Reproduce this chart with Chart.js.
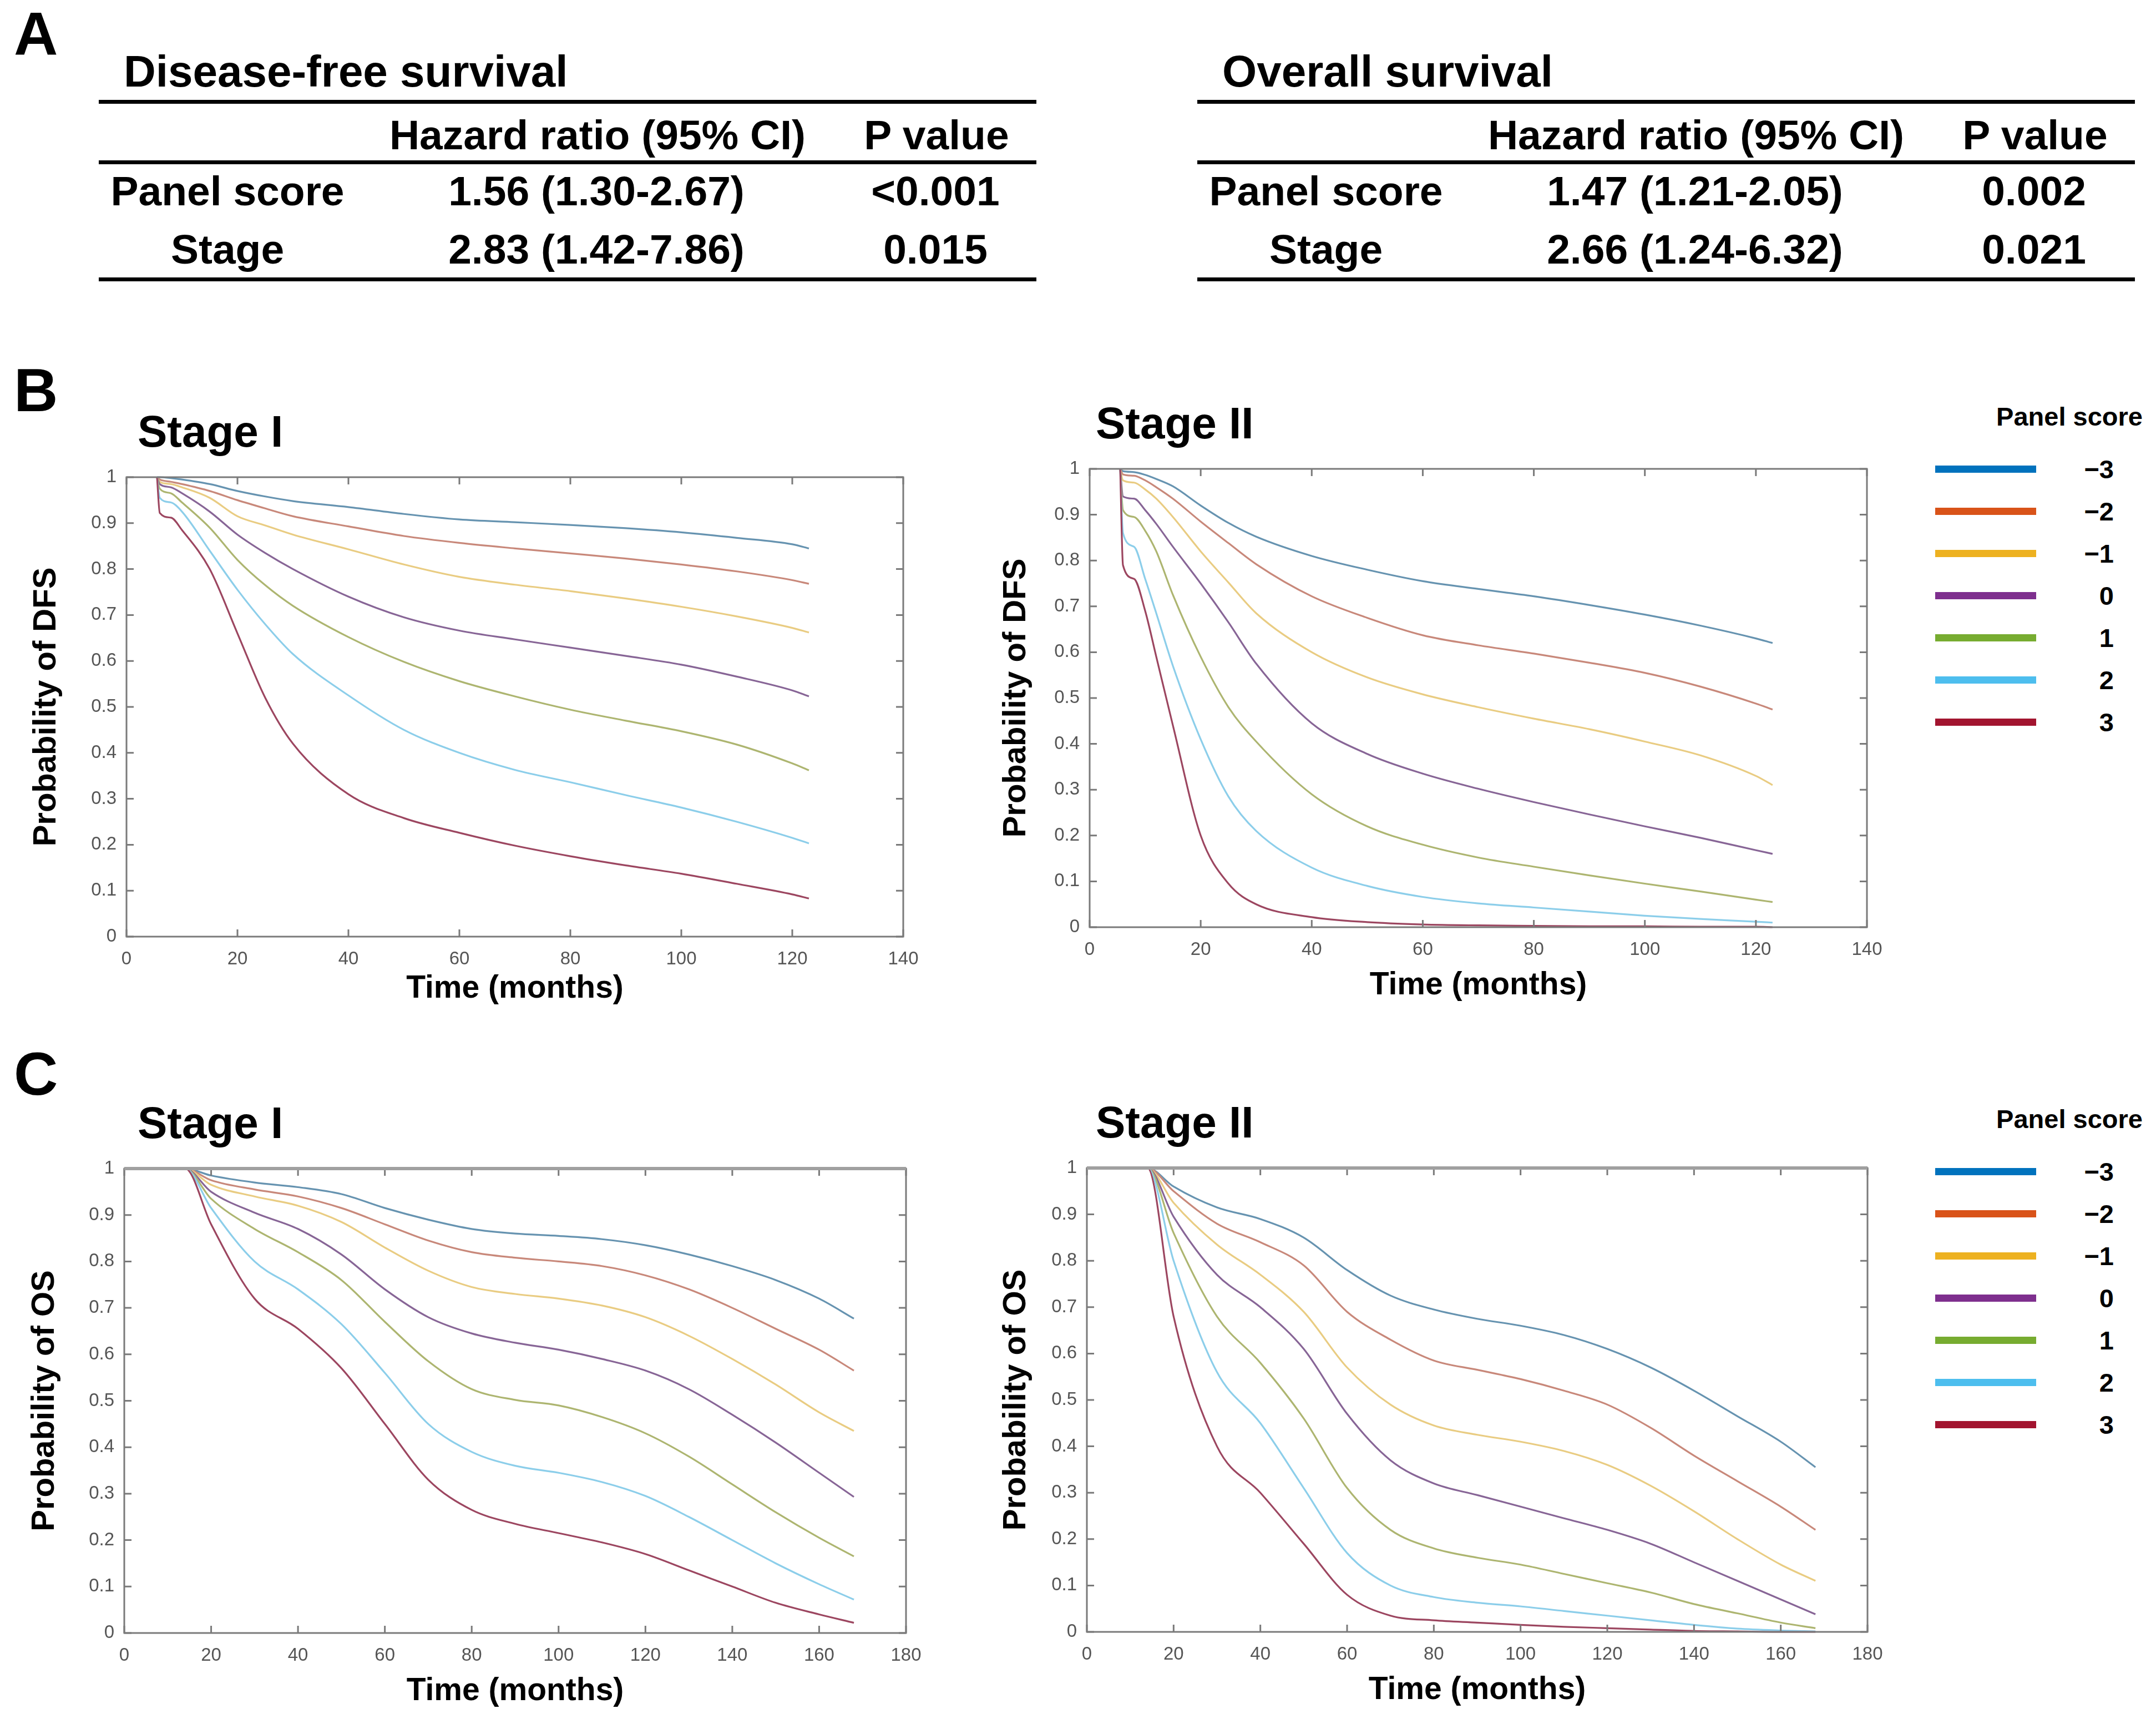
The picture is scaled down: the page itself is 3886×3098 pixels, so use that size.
<!DOCTYPE html>
<html>
<head>
<meta charset="utf-8">
<script src="https://cdn.jsdelivr.net/npm/chart.js@4.4.1/dist/chart.umd.min.js"></script>
<style>
  body { margin: 0; background: #fff; width: 3886px; height: 3098px; position: relative; overflow: hidden;
         font-family: "Liberation Sans", Arial, sans-serif; }
  .t { position: absolute; white-space: nowrap; font-weight: bold; color: #000; line-height: 1;
       transform: translate(-50%, -50%); }
  .l { transform: translate(0, -50%); }
  .r { transform: translate(-100%, -50%); }
  .rule { position: absolute; height: 7px; background: #000; }
  .leg { position: absolute; height: 13px; }
  canvas { position: absolute; }
</style>
</head>
<body>
<script>
// ---- table values (panel A)
const rowNames = ['Panel score', 'Stage'];
const dfsHR = ['1.56 (1.30-2.67)', '2.83 (1.42-7.86)'];
const dfsP = ['<0.001', '0.015'];
const osHR = ['1.47 (1.21-2.05)', '2.66 (1.24-6.32)'];
const osP = ['0.002', '0.021'];

// ---- curves: one row per panel score (-3 .. 3)
const scoreLabels = ['\u22123', '\u22122', '\u22121', '0', '1', '2', '3'];

const dfsTimeI = [5.5, 6, 8, 10, 15, 20, 25, 30, 40, 50, 60, 70, 80, 90, 100, 110, 120, 123];
const dfsStageI = [
  [1, 1, 0.998, 0.995, 0.985, 0.97, 0.958, 0.948, 0.935, 0.92, 0.908, 0.902, 0.896, 0.889, 0.88, 0.868, 0.854, 0.845],
  [1, 0.995, 0.99, 0.985, 0.97, 0.95, 0.932, 0.915, 0.893, 0.872, 0.857, 0.845, 0.834, 0.823, 0.81, 0.795, 0.776, 0.768],
  [1, 0.99, 0.985, 0.978, 0.955, 0.915, 0.895, 0.875, 0.843, 0.81, 0.783, 0.766, 0.752, 0.736, 0.718, 0.697, 0.672, 0.662],
  [1, 0.985, 0.978, 0.965, 0.925, 0.875, 0.835, 0.8, 0.74, 0.695, 0.666, 0.647, 0.629, 0.611, 0.592, 0.566, 0.536, 0.523],
  [1, 0.975, 0.965, 0.945, 0.89, 0.82, 0.765, 0.72, 0.652, 0.598, 0.556, 0.523, 0.494, 0.47, 0.447, 0.418, 0.377, 0.362],
  [1, 0.955, 0.945, 0.925, 0.84, 0.755, 0.68, 0.615, 0.525, 0.45, 0.4, 0.363, 0.336, 0.308, 0.281, 0.25, 0.215, 0.203],
  [1, 0.922, 0.912, 0.885, 0.8, 0.66, 0.52, 0.42, 0.31, 0.258, 0.226, 0.198, 0.175, 0.155, 0.137, 0.115, 0.092, 0.083]
];

const dfsTimeII = [5.5, 6, 8, 10, 12, 15, 20, 25, 30, 40, 50, 60, 70, 80, 90, 100, 110, 120, 123];
const dfsStageII = [
  [1, 0.995, 0.993, 0.987, 0.978, 0.962, 0.92, 0.882, 0.852, 0.81, 0.78, 0.755, 0.738, 0.722, 0.703, 0.682, 0.658, 0.63, 0.62],
  [1, 0.988, 0.985, 0.975, 0.96, 0.935, 0.885, 0.838, 0.792, 0.722, 0.675, 0.637, 0.615, 0.597, 0.577, 0.555, 0.525, 0.488, 0.475],
  [1, 0.975, 0.97, 0.955, 0.935, 0.895, 0.82, 0.752, 0.685, 0.6, 0.545, 0.508, 0.48, 0.455, 0.432, 0.405, 0.375, 0.33, 0.31],
  [1, 0.94, 0.935, 0.91, 0.88, 0.83, 0.75, 0.665, 0.575, 0.445, 0.378, 0.335, 0.302, 0.273, 0.246, 0.22, 0.195, 0.168, 0.16],
  [1, 0.91, 0.895, 0.865, 0.82, 0.725, 0.59, 0.48, 0.405, 0.29, 0.22, 0.18, 0.152, 0.132, 0.113, 0.095, 0.078, 0.06, 0.055],
  [1, 0.86, 0.83, 0.76, 0.685, 0.57, 0.41, 0.285, 0.21, 0.13, 0.09, 0.066, 0.052, 0.043, 0.034, 0.025, 0.018, 0.012, 0.01],
  [1, 0.79, 0.76, 0.69, 0.59, 0.44, 0.2, 0.095, 0.05, 0.022, 0.011, 0.006, 0.004, 0.003, 0.002, 0.002, 0.001, 0.001, 0]
];

const osTime = [0, 14, 20, 30, 40, 50, 60, 70, 80, 90, 100, 110, 120, 130, 140, 150, 160, 168];
const osStageI = [
  [1, 1, 0.985, 0.97, 0.96, 0.945, 0.915, 0.89, 0.87, 0.86, 0.855, 0.848, 0.835, 0.815, 0.79, 0.76, 0.72, 0.677],
  [1, 1, 0.975, 0.955, 0.94, 0.915, 0.88, 0.845, 0.82, 0.808, 0.8, 0.79, 0.77, 0.74, 0.7, 0.655, 0.61, 0.565],
  [1, 1, 0.965, 0.94, 0.92, 0.885, 0.83, 0.78, 0.745, 0.73, 0.72, 0.705, 0.68, 0.64, 0.59, 0.535, 0.475, 0.435],
  [1, 1, 0.95, 0.905, 0.87, 0.815, 0.74, 0.68, 0.645, 0.625, 0.61, 0.59, 0.565, 0.525, 0.47, 0.41, 0.345, 0.293],
  [1, 1, 0.935, 0.87, 0.82, 0.76, 0.67, 0.585, 0.525, 0.502, 0.49, 0.465, 0.43, 0.38, 0.32, 0.26, 0.205, 0.165],
  [1, 1, 0.915, 0.8, 0.74, 0.665, 0.56, 0.45, 0.39, 0.36, 0.345, 0.325, 0.295, 0.25, 0.2, 0.15, 0.105, 0.072],
  [1, 1, 0.88, 0.72, 0.655, 0.57, 0.45, 0.33, 0.265, 0.235, 0.215, 0.195, 0.17, 0.135, 0.1, 0.065, 0.04, 0.022]
];
const osStageII = [
  [1, 1, 0.96, 0.915, 0.89, 0.85, 0.78, 0.725, 0.695, 0.675, 0.66, 0.64, 0.61, 0.57, 0.52, 0.465, 0.41, 0.355],
  [1, 1, 0.95, 0.88, 0.84, 0.79, 0.69, 0.63, 0.585, 0.565, 0.545, 0.52, 0.49, 0.44, 0.38, 0.325, 0.27, 0.22],
  [1, 1, 0.925, 0.835, 0.77, 0.69, 0.57, 0.49, 0.445, 0.425, 0.41, 0.39, 0.36, 0.315, 0.26, 0.2, 0.145, 0.11],
  [1, 1, 0.895, 0.77, 0.7, 0.61, 0.47, 0.37, 0.32, 0.295, 0.27, 0.245, 0.22, 0.19, 0.15, 0.11, 0.07, 0.038],
  [1, 1, 0.86, 0.68, 0.58, 0.46, 0.31, 0.22, 0.18, 0.16, 0.145, 0.125, 0.105, 0.085, 0.06, 0.04, 0.02, 0.008],
  [1, 1, 0.8, 0.56, 0.45, 0.31, 0.17, 0.1, 0.075, 0.063, 0.055, 0.045, 0.035, 0.025, 0.015, 0.007, 0.003, 0.001],
  [1, 1, 0.68, 0.4, 0.3, 0.19, 0.08, 0.035, 0.025, 0.02, 0.015, 0.011, 0.008, 0.005, 0.002, 0.001, 0, 0]
];

// matlab default order; curves in the figure look washed out
const legendColors = ['#0072BD', '#D95319', '#EDB120', '#7E2F8E', '#77AC30', '#4DBEEE', '#A2142F'];
const curveColors = ['#6693b0', '#c8887a', '#e9cc82', '#876596', '#adb570', '#8cceea', '#9c4660'];

Chart.defaults.font.family = '"Liberation Sans", Arial, sans-serif';

function text(str, x, y, size, cls) {
  const d = document.createElement('div');
  d.className = 't' + (cls ? ' ' + cls : '');
  d.textContent = str;
  d.style.left = x + 'px';
  d.style.top = y + 'px';
  d.style.fontSize = size + 'px';
  document.body.appendChild(d);
}
function rule(x, y, w) {
  const d = document.createElement('div');
  d.className = 'rule';
  d.style.left = x + 'px';
  d.style.top = (y - 3.5) + 'px';
  d.style.width = w + 'px';
  document.body.appendChild(d);
}

// ---- panel A tables
function table(dx, title, hr, p) {
  text(title, 223 + dx, 129, 80, 'l');
  rule(178 + dx, 183, 1690);
  rule(178 + dx, 292, 1690);
  rule(178 + dx, 503, 1690);
  text('Hazard ratio (95% CI)', 1077 + dx, 243, 75);
  text('P value', 1688 + dx, 243, 75);
  [344, 449].forEach((y, i) => {
    text(rowNames[i], 410 + dx, y, 75);
    text(hr[i], 1075 + dx, y, 75);
    text(p[i], 1686 + dx, y, 75);
  });
}
table(0, 'Disease-free survival', dfsHR, dfsP);
table(1980, 'Overall survival', osHR, osP);

text('A', 25, 60, 110, 'l');
text('B', 25, 703, 110, 'l');
text('C', 25, 1935, 110, 'l');

// ---- box with inward ticks, like matlab axes
const boxTicks = {
  id: 'boxTicks',
  afterDraw(chart, args, o) {
    const { ctx, chartArea: a, scales: { x, y } } = chart;
    ctx.save();
    ctx.strokeStyle = '#7a7a7a';
    ctx.lineWidth = 3;
    ctx.strokeRect(a.left, a.top, a.right - a.left, a.bottom - a.top);
    ctx.beginPath();
    x.ticks.forEach(t => {
      const px = x.getPixelForValue(t.value);
      ctx.moveTo(px, a.bottom); ctx.lineTo(px, a.bottom - 13);
      ctx.moveTo(px, a.top); ctx.lineTo(px, a.top + 13);
    });
    y.ticks.forEach(t => {
      const py = y.getPixelForValue(t.value);
      ctx.moveTo(a.left, py); ctx.lineTo(a.left + 13, py);
      ctx.moveTo(a.right, py); ctx.lineTo(a.right - 13, py);
    });
    ctx.stroke();
    if (o.topWidth) {
      ctx.strokeStyle = '#a0a0a0';
      ctx.lineWidth = o.topWidth;
      ctx.beginPath();
      ctx.moveTo(a.left, a.top); ctx.lineTo(a.right, a.top);
      ctx.stroke();
    }
    ctx.restore();
  }
};

function makeChart(p) {
  const yW = p.left - (p.yTitleX - 45);
  const cv = document.createElement('canvas');
  const w = (p.right - p.left) + yW + 60;
  const h = (p.bottom - p.top) + 40 + 150;
  cv.width = w; cv.height = h;
  cv.style.left = (p.left - yW) + 'px';
  cv.style.top = (p.top - 40) + 'px';
  cv.style.width = w + 'px'; cv.style.height = h + 'px';
  document.body.appendChild(cv);

  text(p.title, p.titleX, p.top - 82, 80, 'l');

  new Chart(cv, {
    type: 'line',
    data: {
      datasets: p.series.map((vals, i) => ({
        label: scoreLabels[i],
        data: p.times.map((t, j) => ({ x: t, y: vals[j] })),
        borderColor: curveColors[i],
        borderWidth: 3.2,
        pointRadius: 0,
        fill: false,
        cubicInterpolationMode: 'monotone',
        clip: 6
      })).reverse()
    },
    options: {
      responsive: false,
      animation: false,
      devicePixelRatio: 1,
      layout: { padding: { top: 40, right: 60, left: 0, bottom: 0 } },
      plugins: { legend: { display: false }, tooltip: { enabled: false }, boxTicks: { topWidth: p.topWidth || 0 } },
      scales: {
        x: {
          type: 'linear', min: 0, max: p.xMax,
          ticks: { stepSize: 20, padding: 21, color: '#555', font: { size: 33 }, maxRotation: 0, autoSkip: false },
          grid: { display: false, drawTicks: false },
          border: { display: false },
          title: { display: true, text: 'Time (months)', color: '#000',
                   font: { size: 57, weight: 'bold', lineHeight: 1 }, padding: { top: 0, bottom: p.xTitlePad } },
          afterFit: s => { s.height = 150; }
        },
        y: {
          min: 0, max: 1,
          ticks: { stepSize: 0.1, padding: 18, color: '#555', font: { size: 33 },
                   callback: v => String(Math.round(v * 10) / 10) },
          grid: { display: false, drawTicks: false },
          border: { display: false },
          title: { display: true, text: p.yTitle, color: '#000',
                   font: { size: 58, weight: 'bold', lineHeight: 1 }, padding: { top: 16, bottom: 0 } },
          afterFit: s => { s.width = yW; }
        }
      }
    },
    plugins: [boxTicks]
  });
}

makeChart({ left: 228, right: 1628, top: 860, bottom: 1688, yTitleX: 84, xMax: 140, xTitlePad: 27,
  times: dfsTimeI, series: dfsStageI, yTitle: 'Probability of DFS', title: 'Stage I', titleX: 248 });
makeChart({ left: 1964, right: 3365, top: 845, bottom: 1671, yTitleX: 1832, xMax: 140, xTitlePad: 16,
  times: dfsTimeII, series: dfsStageII, yTitle: 'Probability of DFS', title: 'Stage II', titleX: 1975 });
makeChart({ left: 224, right: 1633, top: 2106, bottom: 2943, yTitleX: 81, xMax: 180, xTitlePad: 16, topWidth: 6,
  times: osTime, series: osStageI, yTitle: 'Probability of OS', title: 'Stage I', titleX: 248 });
makeChart({ left: 1959, right: 3366, top: 2105, bottom: 2941, yTitleX: 1832, xMax: 180, xTitlePad: 16, topWidth: 6,
  times: osTime, series: osStageII, yTitle: 'Probability of OS', title: 'Stage II', titleX: 1975 });

// ---- legends (shared by each row)
function legend(y0) {
  text('Panel score', 3730, y0 - 95, 47);
  scoreLabels.forEach((lab, i) => {
    const y = y0 + i * 76;
    const d = document.createElement('div');
    d.className = 'leg';
    d.style.left = '3488px';
    d.style.top = (y - 6.5) + 'px';
    d.style.width = '182px';
    d.style.background = legendColors[i];
    document.body.appendChild(d);
    text(lab, 3810, y, 47, 'r');
  });
}
legend(845);
legend(2111);
</script>
</body>
</html>
